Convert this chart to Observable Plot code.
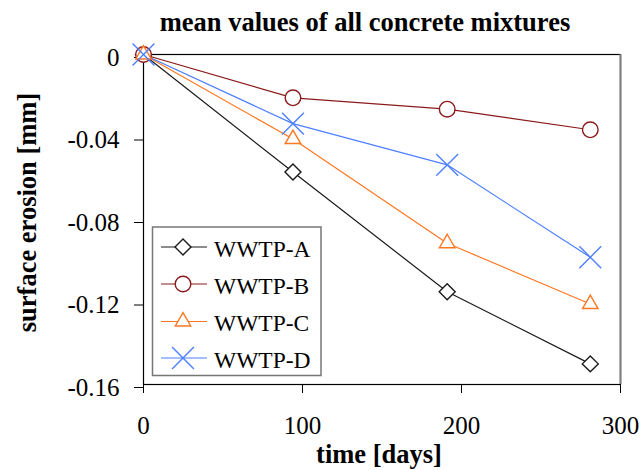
<!DOCTYPE html>
<html>
<head>
<meta charset="utf-8">
<script src="https://cdn.jsdelivr.net/npm/d3@7"></script>
<script src="https://cdn.jsdelivr.net/npm/@observablehq/plot@0.6"></script>
<style>
  html, body { margin: 0; padding: 0; background: white; }
</style>
</head>
<body>
<div id="chart"></div>
<script>
const title = "mean values of all concrete mixtures";
const xLabel = "time [days]";
const yLabel = "surface erosion [mm]";
const days = [0, 94, 191, 281];
const seriesNames = ["WWTP-A", "WWTP-B", "WWTP-C", "WWTP-D"];
const wwtpA = [0, -0.057, -0.115, -0.150];
const wwtpB = [0, -0.021, -0.0265, -0.0365];
const wwtpC = [0, -0.041, -0.0915, -0.121];
const wwtpD = [0, -0.0335, -0.0535, -0.0983];
const xTicks = [0, 100, 200, 300];
const yTicks = [0, -0.04, -0.08, -0.12, -0.16];

const seriesValues = [wwtpA, wwtpB, wwtpC, wwtpD];
const colors = ["#1a1a1a", "#8b1a1a", "#ff7722", "#4d7fff"];
const symbols = ["diamond2", "circle", "triangle2", "times"];
const d3symbols = [d3.symbolDiamond2, d3.symbolCircle, d3.symbolTriangle2, d3.symbolTimes];
const radii = [7.2, 7.8, 7.4, 10];

const font = "'Liberation Serif', 'Times New Roman', serif";

const marks = [];
seriesValues.forEach((vals, i) => {
  const data = days.map((d, j) => ({day: d, value: vals[j]}));
  marks.push(Plot.line(data, {x: "day", y: "value", stroke: colors[i], strokeWidth: 1.2}));
});
seriesValues.forEach((vals, i) => {
  const data = days.map((d, j) => ({day: d, value: vals[j]}));
  marks.push(Plot.dot(data, {x: "day", y: "value", symbol: symbols[i], r: radii[i],
    stroke: colors[i], fill: symbols[i] === "times" ? "none" : "white", strokeWidth: 1.4}));
});

const chart = Plot.plot({
  width: 641,
  height: 470,
  marginLeft: 143,
  marginRight: 21,
  marginTop: 54,
  marginBottom: 86,
  style: {fontFamily: font, fontSize: "25px", background: "white", color: "black"},
  x: {domain: [0, 300]},
  y: {domain: [-0.16, 0]},
  marks: [
    Plot.frame({stroke: "black", strokeWidth: 1.2}),
    Plot.ruleX([300], {stroke: "#808080", strokeWidth: 2}),
    Plot.axisX({ticks: xTicks, tickSize: 9, tickPadding: 23, tickFormat: d => String(d), label: null, fontSize: 25}),
    Plot.axisY({ticks: yTicks, tickSize: 9, tickPadding: 15, tickFormat: d => d === 0 ? "0" : d.toFixed(2), label: null, fontSize: 25, dy: 3}),
    ...marks,
    Plot.text([title], {frameAnchor: "top", lineAnchor: "middle", dx: -17, dy: -31.5, fontWeight: "bold", fontSize: 26.5, textAnchor: "middle", text: d => d}),
    Plot.text([xLabel], {frameAnchor: "bottom", lineAnchor: "middle", dx: -3, dy: 70, fontWeight: "bold", fontSize: 26.5, textAnchor: "middle", text: d => d}),
    Plot.text([yLabel], {frameAnchor: "left", lineAnchor: "middle", dx: -116, dy: -7, rotate: -90, fontWeight: "bold", fontSize: 26.5, textAnchor: "middle", text: d => d})
  ]
});

document.getElementById("chart").appendChild(chart);

// Legend (inside plot area)
const svg = d3.select(chart);
const lg = svg.append("g").attr("class", "legend");
lg.append("rect").attr("x", 152.5).attr("y", 227).attr("width", 168.5).attr("height", 148.5)
  .attr("fill", "white").attr("stroke", "#777").attr("stroke-width", 1.5);
const rowY = [247, 284, 321.5, 358];
seriesNames.forEach((name, i) => {
  const y = rowY[i];
  lg.append("line").attr("x1", 161).attr("x2", 207).attr("y1", y).attr("y2", y)
    .attr("stroke", colors[i]).attr("stroke-width", 1.2);
  lg.append("path").attr("transform", `translate(183,${y})`)
    .attr("d", d3.symbol(d3symbols[i], Math.PI * radii[i] * radii[i])())
    .attr("stroke", colors[i]).attr("stroke-width", 1.4)
    .attr("fill", symbols[i] === "times" ? "none" : "white");
  lg.append("text").attr("x", 214).attr("y", y).attr("dy", "0.41em")
    .attr("text-anchor", "start")
    .attr("font-family", font).attr("font-size", 23.5).attr("fill", "black").text(name);
});
</script>
</body>
</html>
